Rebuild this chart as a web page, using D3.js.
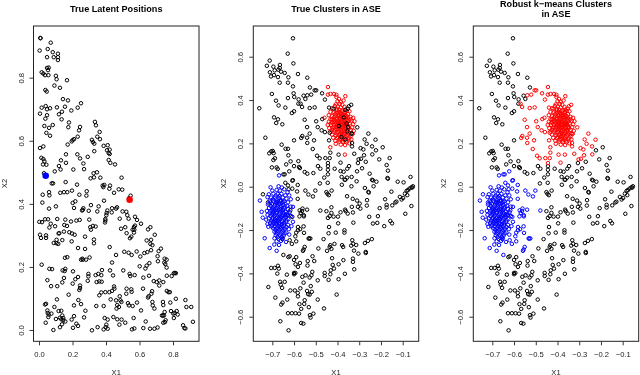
<!DOCTYPE html>
<html><head><meta charset="utf-8">
<script src="https://cdn.jsdelivr.net/npm/d3@7/dist/d3.min.js"></script>
<style>html,body{margin:0;padding:0;background:#fff}svg{display:block;filter:blur(.35px)}text{font-family:"Liberation Sans",Arial,sans-serif}</style>
</head><body><svg id="c" width="640" height="375"></svg>
<script>
// Panel 1: latent positions [X1, X2]
const latentPoints=[[.008,.926],[.009,.925],[.070,.911],[.004,.886],[.052,.891],[.082,.881],[.113,.876],[.048,.865],[.088,.865],[.113,.865],[.113,.856],[.048,.831],[.058,.832],[.054,.824],[.016,.817],[.026,.813],[.036,.808],[.056,.808],[.101,.806],[.105,.795],[.167,.792],[.092,.775],[.125,.768],[.038,.761],[.046,.756],[.143,.732],[.173,.728],[.251,.719],[.231,.705],[.016,.705],[.040,.710],[.048,.700],[.066,.703],[.107,.706],[.155,.708],[.193,.696],[.137,.692],[.119,.684],[.006,.686],[.048,.681],[.038,.670],[.135,.668],[.179,.658],[.175,.643],[.245,.644],[.082,.650],[.032,.647],[.060,.641],[.239,.633],[.334,.660],[.340,.649],[.044,.625],[.066,.616],[.231,.613],[.362,.628],[.348,.613],[.364,.605],[.209,.605],[.201,.602],[.195,.598],[.316,.603],[.322,.596],[.330,.591],[.171,.588],[.386,.584],[.410,.586],[.026,.582],[.006,.577],[.422,.572],[.406,.570],[.416,.561],[.422,.558],[.330,.567],[.229,.557],[.161,.557],[.291,.549],[.245,.544],[.014,.546],[.026,.542],[.032,.535],[.131,.538],[.161,.530],[.024,.525],[.044,.524],[.265,.528],[.416,.539],[.426,.530],[.454,.525],[.119,.520],[.129,.509],[.094,.503],[.205,.509],[.269,.510],[.346,.500],[.326,.497],[.328,.484],[.308,.481],[.366,.483],[.493,.483],[.030,.497],[.076,.465],[.084,.465],[.159,.469],[.227,.461],[.380,.458],[.390,.460],[.424,.458],
[.384,.453],[.420,.448],[.476,.446],[.497,.445],[.448,.435],[.547,.426],[.537,.418],[.022,.429],[.060,.437],[.062,.427],[.127,.435],[.149,.437],[.169,.437],[.197,.442],[.241,.429],[.285,.440],[.283,.426],[.020,.404],[.201,.403],[.217,.408],[.209,.387],[.060,.385],[.101,.392],[.388,.410],[.310,.396],[.356,.392],[.265,.386],[.261,.381],[.257,.379],[.297,.378],[.348,.376],[.408,.379],[.404,.371],[.402,.364],[.436,.386],[.466,.389],[.460,.385],[.434,.373],[.499,.376],[.521,.375],[.527,.364],[.535,.353],[.573,.359],[.585,.349],[.609,.337],[.651,.319],[.665,.326],[.396,.352],[.396,.347],[.394,.341],[.482,.353],[.036,.351],[.002,.343],[.018,.342],[.054,.351],[.109,.352],[.070,.337],[.062,.325],[.096,.329],[.157,.350],[.191,.344],[.223,.347],[.243,.349],[.300,.350],[.151,.333],[.167,.330],[.306,.326],[.322,.330],[.338,.328],[.310,.318],[.490,.321],[.515,.326],[.573,.331],[.567,.326],[.559,.318],[.569,.318],[.567,.309],[.523,.307],[.691,.302],[.551,.296],[.543,.291],[.006,.302],[.012,.292],[.042,.300],[.042,.292],[.121,.307],[.117,.306],[.149,.312],[.181,.310],[.197,.306],[.213,.302],[.275,.296],[.195,.281],[.328,.287],[.328,.275],[.088,.276],[.105,.286],[.105,.275],[.115,.273],[.139,.285],[.643,.284],[.669,.286],[.665,.273],[.677,.269],[.233,.260],[.275,.257],[.422,.263],[.460,.238],[.509,.248],[.535,.245],[.553,.238],[.583,.249],[.605,.233],[.629,.244],[.647,.247],[.669,.253],[.714,.250],[.728,.258],[.708,.234],[.710,.218],[.750,.226],[.762,.223],[.748,.214],[.754,.209],[.762,.198],[.155,.229],[.169,.231],[.302,.230],[.251,.223],[.259,.226],[.263,.223],[.281,.223],[.436,.214],[.016,.207],[.062,.194],[.078,.193],[.141,.189],[.157,.194],[.153,.187],[.203,.186],[.376,.190],[.424,.189],[.503,.189],[.601,.202],[.659,.212],[.643,.204],[.635,.195],[.541,.178],[.571,.174],[.545,.171],[.295,.178],[.295,.170],[.291,.156],[.233,.168],[.217,.161],[.149,.165],[.050,.158],[.072,.139],[.109,.139],[.139,.151],[.201,.147],[.245,.141],[.245,.133],[.241,.127],[.372,.174],[.354,.178],[.338,.174],[.360,.154],[.344,.152],[.374,.153],[.442,.173],[.448,.138],[.450,.131],[.436,.124],[.523,.131],[.551,.129],[.553,.121],[.521,.115],[.420,.120],[.396,.120],[.372,.119],[.360,.110],[.621,.131],[.675,.123],[.671,.115],[.655,.107],[.651,.103],[.685,.155],[.703,.152],[.718,.157],[.623,.166],[.657,.172],[.718,.141],[.742,.152],[.792,.171],[.805,.180],[.811,.181],[.817,.180],[.763,.172],[.763,.124],[.773,.120],[.781,.120],[.740,.089],[.742,.079],[.784,.087],[.817,.099],[.177,.112],[.107,.097],[.209,.078],[.235,.095],[.251,.082],[.460,.094],[.482,.107],[.486,.094],[.492,.089],[.428,.097],[.467,.079],[.477,.073],[.463,.068],[.342,.076],[.386,.076],[.531,.085],[.537,.078],[.559,.076],[.585,.087],[.609,.062],[.677,.089],[.679,.078],[.689,.068],[.036,.081],[.042,.083],[.092,.073],[.050,.062],[.052,.054],[.058,.049],[.074,.052],[.056,.041],[.117,.060],[.133,.061],[.139,.046],[.145,.038],[.145,.031],[.133,.034],[.137,.018],[.157,.027],[.195,.033],[.209,.044],[.277,.061],[.269,.040],[.040,.023],[.101,.035],[.125,.039],[.125,.009],[.086,.000],[.223,.020],[.233,.013],[.203,.007],[.316,-.001],[.350,.009],[.392,.038],[.410,.033],[.402,.017],[.398,.009],[.386,.002],[.410,.004],[.444,.041],[.467,.034],[.493,.033],[.515,.023],[.565,.038],[.480,.017],[.555,.002],[.569,.005],[.623,.006],[.637,.027],[.663,.004],[.689,.004],[.708,.008],[.734,.046],[.740,.046],[.746,.046],[.756,.031],[.752,.025],[.742,.023],[.750,.057],[.788,.060],[.802,.052],[.810,.054],[.805,.038],[.822,.060],[.828,.049],[.860,.015],[.868,.006],[.874,.005],[.874,.095],[.880,.073],[.909,.073],[.919,.026]];
const highlightedLatent=[[.040,.489,"blue"],[.541,.413,"red"]];

// Panels 2 and 3: spectral embedding [X1, X2], split by (true cluster, robust cluster)
const blackBoth=[[-.605,.685],[-.629,.614],[-.603,.569],[-.712,.582],[-.725,.558],[-.695,.554],[-.665,.562],[-.666,.548],[-.689,.537],[-.672,.540],[-.660,.531],[-.643,.525],[-.711,.528],[-.706,.509],[-.692,.515],[-.674,.506],[-.626,.505],[-.666,.480],[-.628,.480],[-.582,.520],[-.539,.503],[-.605,.463],[-.527,.458],[-.602,.431],[-.599,.414],[-.702,.428],[-.628,.409],[-.579,.403],[-.556,.420],[-.548,.405],[-.683,.397],[-.671,.375],[-.640,.365],[-.580,.383],[-.600,.348],[-.610,.340],[-.760,.362],[-.692,.320],[-.674,.311],[-.682,.294],[-.654,.288],[-.600,.214],[-.732,.226],[-.657,.194],[-.639,.175],[-.628,.175],[-.705,.163],[-.698,.165],[-.714,.154],[-.694,.155],[-.688,.131],[-.695,.123],[-.626,.145],[-.702,.089],[-.680,.089],[-.675,.082],[-.616,.117],[-.580,.118],[-.636,.103],[-.600,.095],[-.577,.091],[-.573,.086],[-.551,.068],[-.539,.060],[-.511,.063],
[-.444,.095],[-.444,.078],[-.490,.095],[-.479,.083],[-.461,.042],[-.444,.057],[-.481,.015],[-.445,.018],[-.413,.083],[-.223,.168],[-.270,.115],[-.306,.109],[-.287,.085],[-.310,.071],[-.192,.182],[-.160,.132],[-.208,.126],[-.174,.100],[-.168,.074],[-.170,.040],[-.168,.037],[-.064,.045],[-.123,.023],[-.096,.020],[-.252,.060],[-.241,.032],[-.237,.029],[-.221,.023],[-.234,.002],[-.367,.032],[-.364,.032],[-.381,.045],[-.356,.042],[-.335,.045],[-.312,.025],[-.347,.095],[-.355,.083],[-.372,.069],[-.386,.072],[-.380,.009],[-.336,.002],[-.053,.002],[-.060,-.003],
[-.451,-.025],[-.446,-.033],[-.440,-.039],[-.427,-.018],[-.356,-.044],[-.330,-.056],[-.310,-.064],[-.298,-.078],[-.274,-.006],[-.258,-.024],[-.256,-.027],[-.264,-.062],[-.265,-.087],[-.152,-.023],[-.181,-.058],[-.206,-.099],[-.174,-.096],[-.174,-.084],[-.148,-.086],[-.134,-.073],[-.129,-.069],[-.113,-.047],[-.105,-.059],[-.098,-.052],[-.090,-.032],[-.082,-.019],[-.076,-.016],[-.069,-.009],[-.056,-.004],[-.079,-.039],[-.060,-.089],[-.088,-.125],[-.254,-.139],[-.214,-.136],[-.237,-.170],[-.217,-.167],[-.185,-.182],[-.157,-.158],[-.149,-.169],[-.428,-.095],[-.451,-.113],[-.428,-.121],[-.436,-.136],[-.444,-.144],[-.418,-.138],[-.398,-.138],[-.386,-.118],[-.365,-.106],[-.362,-.113],[-.353,-.124],[-.329,-.119],[-.334,-.093],[-.306,-.093],[-.295,-.101],[-.327,-.166],[-.397,-.169],[-.439,-.186],[-.441,-.215],[-.408,-.212],[-.368,-.201],[-.368,-.212],[-.464,-.242],[-.332,-.247],[-.328,-.263],[-.337,-.272],[-.314,-.269],[-.274,-.260],[-.260,-.250],[-.242,-.242],[-.379,-.270],[-.374,-.278],[-.433,-.270],[-.414,-.264],[-.436,-.278],[-.428,-.287],[-.448,-.296],[-.488,-.285],[-.324,-.295],[-.304,-.309],[-.270,-.301],[-.270,-.306],[-.425,-.330],[-.373,-.339],[-.395,-.358],[-.422,-.361],[-.416,-.378],[-.431,-.386],[-.459,-.398],[-.459,-.412],[-.433,-.404],[-.441,-.430],[-.395,-.427],[-.366,-.402],[-.329,-.332],[-.329,-.347],[-.323,-.381],[-.404,-.498],[-.491,-.432],[-.462,-.562],[-.491,-.521],
[-.626,-.325],[-.620,-.321],[-.600,-.338],[-.590,-.325],[-.593,-.358],[-.573,-.352],[-.582,-.370],[-.600,-.398],[-.594,-.398],[-.600,-.404],[-.633,-.406],[-.537,-.343],[-.515,-.321],[-.507,-.343],[-.538,-.364],[-.705,-.375],[-.689,-.375],[-.674,-.365],[-.670,-.378],[-.677,-.401],[-.562,-.416],[-.547,-.409],[-.528,-.419],[-.520,-.409],[-.516,-.393],[-.556,-.443],[-.664,-.439],[-.643,-.439],[-.661,-.452],[-.655,-.467],[-.718,-.463],[-.686,-.512],[-.653,-.535],[-.659,-.544],[-.631,-.521],[-.617,-.479],[-.596,-.479],[-.571,-.469],[-.583,-.490],[-.582,-.506],[-.575,-.542],[-.551,-.524],[-.553,-.541],[-.567,-.564],[-.532,-.556],[-.540,-.481],[-.523,-.459],[-.518,-.485],[-.535,-.496],[-.528,-.498],[-.628,-.584],[-.610,-.584],[-.593,-.584],[-.577,-.586],[-.663,-.621],[-.625,-.663],[-.567,-.629],[-.557,-.632],[-.527,-.593],[-.524,-.604],[-.511,-.586]];
const blackToRed=[[-.505,.445],[-.498,.445],[-.471,.431],[-.539,.422],[-.521,.425],[-.570,.383],[-.563,.368],[-.528,.363],[-.505,.366],[-.551,.309],[-.470,.312],[-.498,.302],[-.540,.275],[-.491,.275],[-.473,.260],[-.458,.252],[-.528,.245],[-.562,.234],[-.567,.225],[-.540,.226],[-.508,.214],[-.439,.214],[-.539,.202],[-.514,.174],[-.494,.143],[-.482,.131],[-.436,.132],[-.456,.132],[-.433,.157],[-.444,.109],[-.395,.148],[-.458,.402],[-.386,.111],[-.335,.246],[-.309,.274],[-.333,.202],[-.333,.186],[-.323,.152],[-.294,.178],[-.281,.172],[-.266,.198],[-.275,.218],[-.258,.245],[-.225,.217],[-.241,.186],[-.278,.145],[-.292,.129],[-.303,.126],[-.240,.149],[-.439,.365],[-.418,.360],[-.364,.355],[-.352,.360],[-.337,.378],[-.348,.371],[-.370,.320],[-.393,.280],[-.358,.292],[-.352,.275],[-.382,.229],[-.364,.218],[-.336,.245],[-.436,.249],[-.355,.255]];
const blackToBlue=[[-.649,.057],[-.643,.057],[-.622,.071],[-.640,.018],[-.608,.028],[-.605,.030],[-.628,.006],[-.583,.008],[-.743,-.035],[-.720,-.073],[-.680,-.073],[-.608,-.009],[-.625,-.012],[-.586,-.022],[-.548,-.018],[-.534,-.036],[-.513,-.045],[-.502,-.018],[-.583,-.056],[-.479,-.110],[-.574,-.109],[-.563,-.112],[-.569,-.121],[-.555,-.132],[-.561,-.101],[-.540,-.106],[-.575,-.137],[-.555,-.137],[-.582,-.186],[-.556,-.183],[-.572,-.196],[-.582,-.201],[-.554,-.213],[-.590,-.212],[-.533,-.239],[-.525,-.239],[-.530,-.239],[-.590,-.252],[-.610,-.264],[-.620,-.247],[-.654,-.242],[-.594,-.229],[-.551,-.278],[-.559,-.296],[-.556,-.290],[-.649,-.315],[-.617,-.109],[-.608,-.139],[-.628,-.132]];
const redCluster=[[-.444,.460],[-.444,.425],[-.432,.428],[-.416,.428],[-.405,.424],[-.405,.414],[-.364,.418],[-.393,.405],[-.400,.395],[-.385,.392],[-.372,.398],[-.390,.382],[-.408,.380],[-.378,.378],[-.398,.370],[-.412,.372],[-.385,.366],[-.368,.368],[-.425,.362],[-.405,.358],[-.392,.355],[-.375,.352],[-.358,.350],[-.345,.348],[-.432,.345],[-.418,.342],[-.404,.340],[-.388,.340],[-.372,.338],[-.352,.335],[-.440,.330],[-.425,.325],[-.410,.325],[-.396,.328],[-.380,.325],[-.362,.322],[-.340,.322],[-.328,.318],[-.460,.318],[-.432,.312],[-.418,.310],[-.402,.312],[-.388,.312],[-.370,.308],[-.350,.308],[-.335,.305],[-.322,.302],[-.440,.300],[-.424,.298],[-.410,.298],[-.395,.298],[-.378,.296],[-.362,.294],[-.345,.292],[-.328,.288],[-.445,.285],[-.430,.285],[-.415,.284],[-.400,.283],[-.384,.283],[-.368,.281],[-.350,.278],[-.332,.275],[-.438,.270],[-.422,.270],[-.406,.268],[-.390,.268],[-.372,.266],[-.355,.262],[-.340,.262],[-.325,.258],[-.432,.255],[-.415,.254],[-.398,.252],[-.382,.252],[-.365,.250],[-.345,.248],[-.330,.244],[-.425,.240],[-.408,.238],[-.392,.238],[-.375,.236],[-.358,.234],[-.340,.232],[-.420,.226],[-.402,.224],[-.385,.220],[-.368,.222],[-.350,.220],[-.336,.218],[-.410,.212],[-.392,.208],[-.375,.206],[-.358,.205],[-.345,.200],[-.408,.198],[-.385,.194],[-.365,.192],[-.433,.182],[-.366,.148],[-.395,.345],[-.385,.335],[-.375,.320],[-.395,.305],[-.385,.290],[-.375,.275],[-.395,.275],[-.385,.260],[-.400,.305],[-.380,.305],[-.365,.300],[-.405,.290],[-.415,.320],[-.365,.330],[-.355,.285],[-.360,.270],[-.378,.245],[-.395,.262],[-.370,.290],[-.388,.300],
[-.402,.352],[-.381,.348],[-.366,.344],[-.392,.332],[-.411,.334],[-.377,.331],[-.358,.327],[-.403,.319],[-.389,.321],[-.371,.315],[-.352,.317],[-.416,.304],[-.392,.291],[-.379,.288],[-.361,.286],[-.408,.276],[-.383,.274],[-.366,.273],[-.347,.270],[-.413,.262],[-.378,.258],[-.363,.257],[-.405,.247],[-.388,.245],[-.371,.243],[-.352,.241],[-.399,.231],[-.383,.234],[-.364,.228],[-.346,.226],[-.391,.216],[-.376,.214],[-.359,.213],[-.399,.286],[-.352,.300],[-.342,.311],[-.425,.311],[-.431,.293],[-.418,.276],[-.424,.262]];
const blueCluster=[[-.669,.052],[-.708,-.003],[-.671,.002],[-.656,-.004],[-.700,-.018],[-.680,-.015],[-.664,-.018],[-.645,-.012],[-.630,-.025],[-.716,-.035],[-.695,-.032],[-.675,-.034],[-.658,-.033],[-.640,-.040],[-.622,-.040],[-.757,-.064],[-.722,-.048],[-.705,-.050],[-.688,-.050],[-.670,-.052],[-.652,-.050],[-.635,-.055],[-.615,-.058],[-.712,-.065],[-.695,-.066],[-.678,-.064],[-.660,-.066],[-.645,-.068],[-.628,-.072],[-.605,-.093],[-.720,-.082],[-.702,-.080],[-.685,-.082],[-.668,-.080],[-.650,-.084],[-.632,-.088],[-.615,-.092],[-.749,-.116],[-.715,-.098],[-.698,-.096],[-.680,-.098],[-.662,-.096],[-.645,-.100],[-.628,-.104],[-.708,-.112],[-.690,-.112],[-.674,-.110],[-.656,-.114],[-.638,-.116],[-.620,-.118],[-.722,-.130],[-.704,-.128],[-.686,-.128],[-.668,-.126],[-.650,-.130],[-.632,-.132],[-.614,-.136],[-.744,-.143],[-.716,-.146],[-.698,-.144],[-.680,-.142],[-.662,-.144],[-.644,-.146],[-.626,-.150],[-.706,-.160],[-.690,-.158],[-.672,-.158],[-.654,-.160],[-.636,-.162],[-.605,-.162],[-.722,-.172],[-.718,-.185],[-.700,-.176],[-.682,-.174],[-.664,-.174],[-.646,-.178],[-.628,-.176],[-.612,-.182],[-.696,-.192],[-.678,-.190],[-.660,-.192],[-.642,-.194],[-.624,-.196],[-.690,-.208],[-.672,-.206],[-.654,-.208],[-.636,-.212],[-.622,-.221],[-.684,-.224],[-.666,-.224],[-.648,-.226],[-.735,-.238],[-.690,-.238],[-.672,-.240],[-.652,-.238],[-.637,-.255],[-.680,-.252],[-.660,-.250],[-.712,-.283],[-.691,-.267],[-.669,-.269],[-.680,-.296],[-.690,-.088],[-.672,-.070],[-.660,-.105],[-.680,-.120],[-.672,-.135],[-.688,-.150],[-.665,-.150],[-.650,-.070],[-.675,-.090],[-.695,-.125],[-.660,-.140],[-.678,-.165],[-.655,-.172],[-.690,-.170],[-.640,-.130],[-.700,-.105],[-.665,-.185],[-.680,-.205],
[-.684,-.041],[-.667,-.043],[-.697,-.058],[-.683,-.072],[-.663,-.059],[-.654,-.075],[-.707,-.089],[-.693,-.104],[-.676,-.082],[-.659,-.088],[-.641,-.092],[-.683,-.106],[-.667,-.103],[-.651,-.107],[-.712,-.120],[-.697,-.118],[-.665,-.118],[-.647,-.122],[-.631,-.124],[-.708,-.136],[-.690,-.135],[-.655,-.137],[-.638,-.139],[-.700,-.152],[-.683,-.158],[-.670,-.146],[-.650,-.152],[-.634,-.155],[-.710,-.168],[-.696,-.166],[-.667,-.166],[-.645,-.168],[-.703,-.184],[-.688,-.183],[-.673,-.182],[-.653,-.184],[-.635,-.186],[-.686,-.198],[-.668,-.198],[-.649,-.200],[-.681,-.215],[-.661,-.216],[-.643,-.216],[-.675,-.232],[-.656,-.232],[-.708,-.072],[-.725,-.112],[-.728,-.152]];

const latentXTicks=[0,.2,.4,.6,.8], latentYTicks=[0,.2,.4,.6,.8];
const aseXTicks=[-.7,-.6,-.5,-.4,-.3,-.2,-.1], aseYTicks=[-.6,-.4,-.2,0,.2,.4,.6];

const svg=d3.select("#c");
const ink="#222";
function tick1(v){return d3.format(".1f")(v).replace("-","\u2212");}

function panel(o){
  const g=svg.append("g");
  const x=d3.scaleLinear().domain(o.xd).range(o.xr);
  const y=d3.scaleLinear().domain(o.yd).range(o.yr);
  const bottom=341.3, top=26;
  const ax=d3.axisBottom(x).tickValues(o.xt).tickSize(4).tickPadding(0).tickFormat(tick1);
  const gx=g.append("g").attr("transform",`translate(0,${bottom})`).call(ax);
  gx.select(".domain").remove();
  gx.selectAll("text").attr("y",15.5).attr("dy",0).style("font-size","7.6px").attr("fill","#222");
  const ay=d3.axisLeft(y).tickValues(o.yt).tickSize(4).tickPadding(0).tickFormat(tick1);
  const gy=g.append("g").attr("transform",`translate(${o.left},0)`).call(ay);
  gy.select(".domain").remove();
  gy.selectAll("text").attr("x",0).attr("dy",0).attr("transform","translate(-10,0) rotate(-90)").attr("text-anchor","middle").style("font-size","7.6px").attr("fill","#222");
  g.selectAll(".tick line").attr("stroke",ink).attr("stroke-width",.9);
  g.append("rect").attr("x",o.left).attr("y",top).attr("width",o.right-o.left).attr("height",bottom-top).attr("fill","none").attr("stroke",ink).attr("stroke-width",1);
  g.selectAll("circle.p").data(o.points).join("circle").attr("class","p")
    .attr("cx",d=>x(d[0])).attr("cy",d=>y(d[1])).attr("r",1.75)
    .attr("fill","none").attr("stroke",d=>d[2]).attr("stroke-width",1);
  if(o.solid) g.selectAll("circle.s").data(o.solid).join("circle").attr("class","s")
    .attr("cx",d=>x(d[0])).attr("cy",d=>y(d[1])).attr("r",3.3).attr("fill",d=>d[2]);
  const mid=(o.left+o.right)/2;
  o.title.forEach((t,i)=>g.append("text").attr("x",mid).attr("y",o.titleY+i*10.7).attr("text-anchor","middle").style("font-size","9.1px").style("font-weight","bold").attr("fill","#000").text(t));
  g.append("text").attr("x",mid).attr("y",374.5).attr("text-anchor","middle").style("font-size","7.6px").attr("fill","#222").text("X1");
  g.append("text").attr("transform",`translate(${o.left-27},183.5) rotate(-90)`).attr("text-anchor","middle").style("font-size","7.6px").attr("fill","#222").text("X2");
}
const col=(arr,c)=>arr.map(d=>[d[0],d[1],c]);
panel({left:33.5,right:199,xd:[0,.8],xr:[39,173],yd:[0,.8],yr:[330,77.7],xt:latentXTicks,yt:latentYTicks,
  points:col(latentPoints,"black"),solid:highlightedLatent,title:["True Latent Positions"],titleY:12});
panel({left:253.3,right:418.7,xd:[-.7,-.1],xr:[272.3,402.7],yd:[-.6,.6],yr:[316.7,56.7],xt:aseXTicks,yt:aseYTicks,
  points:[...col(blackToBlue,"black"),...col(blueCluster,"blue"),...col(redCluster,"red"),...col(blackBoth,"black"),...col(blackToRed,"black")],title:["True Clusters in ASE"],titleY:12});
panel({left:473.3,right:638.7,xd:[-.7,-.1],xr:[492.3,622.7],yd:[-.6,.6],yr:[316.7,56.7],xt:aseXTicks,yt:aseYTicks,
  points:[...col(blackBoth,"black"),...col(blackToRed,"red"),...col(blackToBlue,"blue"),...col(redCluster,"red"),...col(blueCluster,"blue")],title:["Robust k\u2212means Clusters","in ASE"],titleY:6.5});
</script></body></html>
